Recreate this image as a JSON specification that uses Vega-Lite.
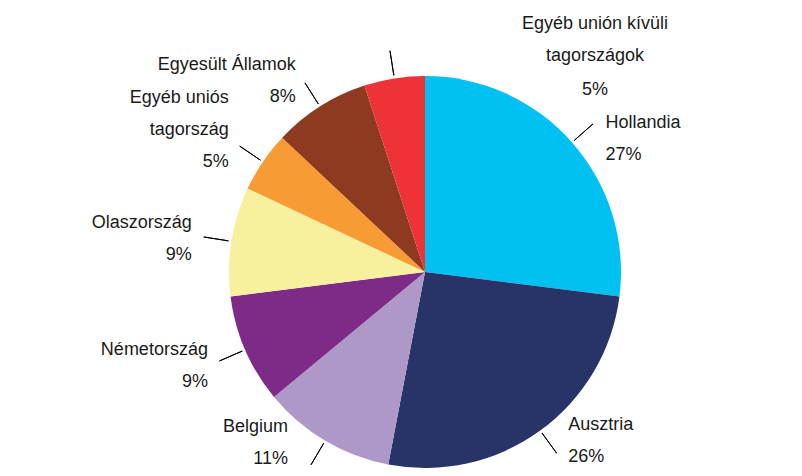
{
  "$schema": "https://vega.github.io/schema/vega-lite/v6.json",
  "autosize": {"type": "none"},
  "padding": {"left": 48, "top": 68, "right": 0, "bottom": 0},
  "width": 754,
  "height": 408,
  "background": "#ffffff",
  "config": {"view": {"stroke": null}, "text": {"font": "Liberation Sans, Arial, sans-serif", "fontSize": 18, "color": "#1a1a1a", "lineHeight": 32, "baseline": "alphabetic", "lineBreak": "\n"}},
  "data": {
    "values": [
      {"country": "Hollandia", "label": "Hollandia", "share": 0.27, "n": 1},
      {"country": "Ausztria", "label": "Ausztria", "share": 0.26, "n": 2},
      {"country": "Belgium", "label": "Belgium", "share": 0.11, "n": 3},
      {"country": "Németország", "label": "Németország", "share": 0.09, "n": 4},
      {"country": "Olaszország", "label": "Olaszország", "share": 0.09, "n": 5},
      {"country": "Egyéb uniós tagország", "label": "Egyéb uniós\ntagország", "share": 0.05, "n": 6},
      {"country": "Egyesült Államok", "label": "Egyesült Államok", "share": 0.08, "n": 7},
      {"country": "Egyéb unión kívüli tagországok", "label": "Egyéb unión kívüli\ntagországok", "share": 0.05, "n": 8}
    ]
  },
  "encoding": {
    "theta": {"field": "share", "type": "quantitative", "stack": true},
    "order": {"field": "n", "type": "quantitative"},
    "detail": {"field": "country", "type": "nominal"}
  },
  "layer": [
    {
      "mark": {"type": "arc", "outerRadius": 196},
      "encoding": {
        "color": {
          "field": "country", "type": "nominal", "legend": null,
          "scale": {
            "domain": ["Hollandia", "Ausztria", "Belgium", "Németország", "Olaszország", "Egyéb uniós tagország", "Egyesült Államok", "Egyéb unión kívüli tagországok"],
            "range": ["#00C1F1", "#283368", "#AE98C8", "#7E2A87", "#F7F09E", "#F79C34", "#8E3A20", "#EE3338"]
          }
        }
      }
    },
    {
      "mark": {"type": "arc", "radius": 224, "radius2": 199, "padAngle": 3, "filled": false, "color": "#000000", "strokeWidth": 1}
    },
    {
      "mark": {"type": "text", "radius": 230, "align": "left", "dx": 8, "dy": 8},
      "encoding": {"text": {"condition": {"test": "datum.country === 'Hollandia'", "field": "label", "type": "nominal"}, "value": ""}}
    },
    {
      "mark": {"type": "text", "radius": 230, "align": "left", "dx": 8, "dy": 40},
      "encoding": {"text": {"condition": {"test": "datum.country === 'Hollandia'", "field": "share", "type": "quantitative", "format": ".0%"}, "value": ""}}
    },
    {
      "mark": {"type": "text", "radius": 230, "align": "left", "dx": 8, "dy": -28},
      "encoding": {"text": {"condition": {"test": "datum.country === 'Ausztria'", "field": "label", "type": "nominal"}, "value": ""}}
    },
    {
      "mark": {"type": "text", "radius": 230, "align": "left", "dx": 8, "dy": 4},
      "encoding": {"text": {"condition": {"test": "datum.country === 'Ausztria'", "field": "share", "type": "quantitative", "format": ".0%"}, "value": ""}}
    },
    {
      "mark": {"type": "text", "radius": 230, "align": "right", "dx": -20, "dy": -38},
      "encoding": {"text": {"condition": {"test": "datum.country === 'Belgium'", "field": "label", "type": "nominal"}, "value": ""}}
    },
    {
      "mark": {"type": "text", "radius": 230, "align": "right", "dx": -20, "dy": -6},
      "encoding": {"text": {"condition": {"test": "datum.country === 'Belgium'", "field": "share", "type": "quantitative", "format": ".0%"}, "value": ""}}
    },
    {
      "mark": {"type": "text", "radius": 230, "align": "right", "dx": -6, "dy": -8},
      "encoding": {"text": {"condition": {"test": "indexof(['Németország', 'Olaszország', 'Egyesült Államok'], datum.country) >= 0", "field": "label", "type": "nominal"}, "value": ""}}
    },
    {
      "mark": {"type": "text", "radius": 230, "align": "right", "dx": -6, "dy": -40},
      "encoding": {"text": {"condition": {"test": "datum.country === 'Egyéb uniós tagország'", "field": "label", "type": "nominal"}, "value": ""}}
    },
    {
      "mark": {"type": "text", "radius": 230, "align": "right", "dx": -6, "dy": 24},
      "encoding": {"text": {"condition": {"test": "indexof(['Németország', 'Olaszország', 'Egyéb uniós tagország', 'Egyesült Államok'], datum.country) >= 0", "field": "share", "type": "quantitative", "format": ".0%"}, "value": ""}}
    },
    {
      "mark": {"type": "text", "radius": 230, "align": "center", "dx": 206, "dy": -16},
      "encoding": {"text": {"condition": {"test": "datum.country === 'Egyéb unión kívüli tagországok'", "field": "label", "type": "nominal"}, "value": ""}}
    },
    {
      "mark": {"type": "text", "radius": 230, "align": "center", "dx": 206, "dy": 50},
      "encoding": {"text": {"condition": {"test": "datum.country === 'Egyéb unión kívüli tagországok'", "field": "share", "type": "quantitative", "format": ".0%"}, "value": ""}}
    }
  ]
}
